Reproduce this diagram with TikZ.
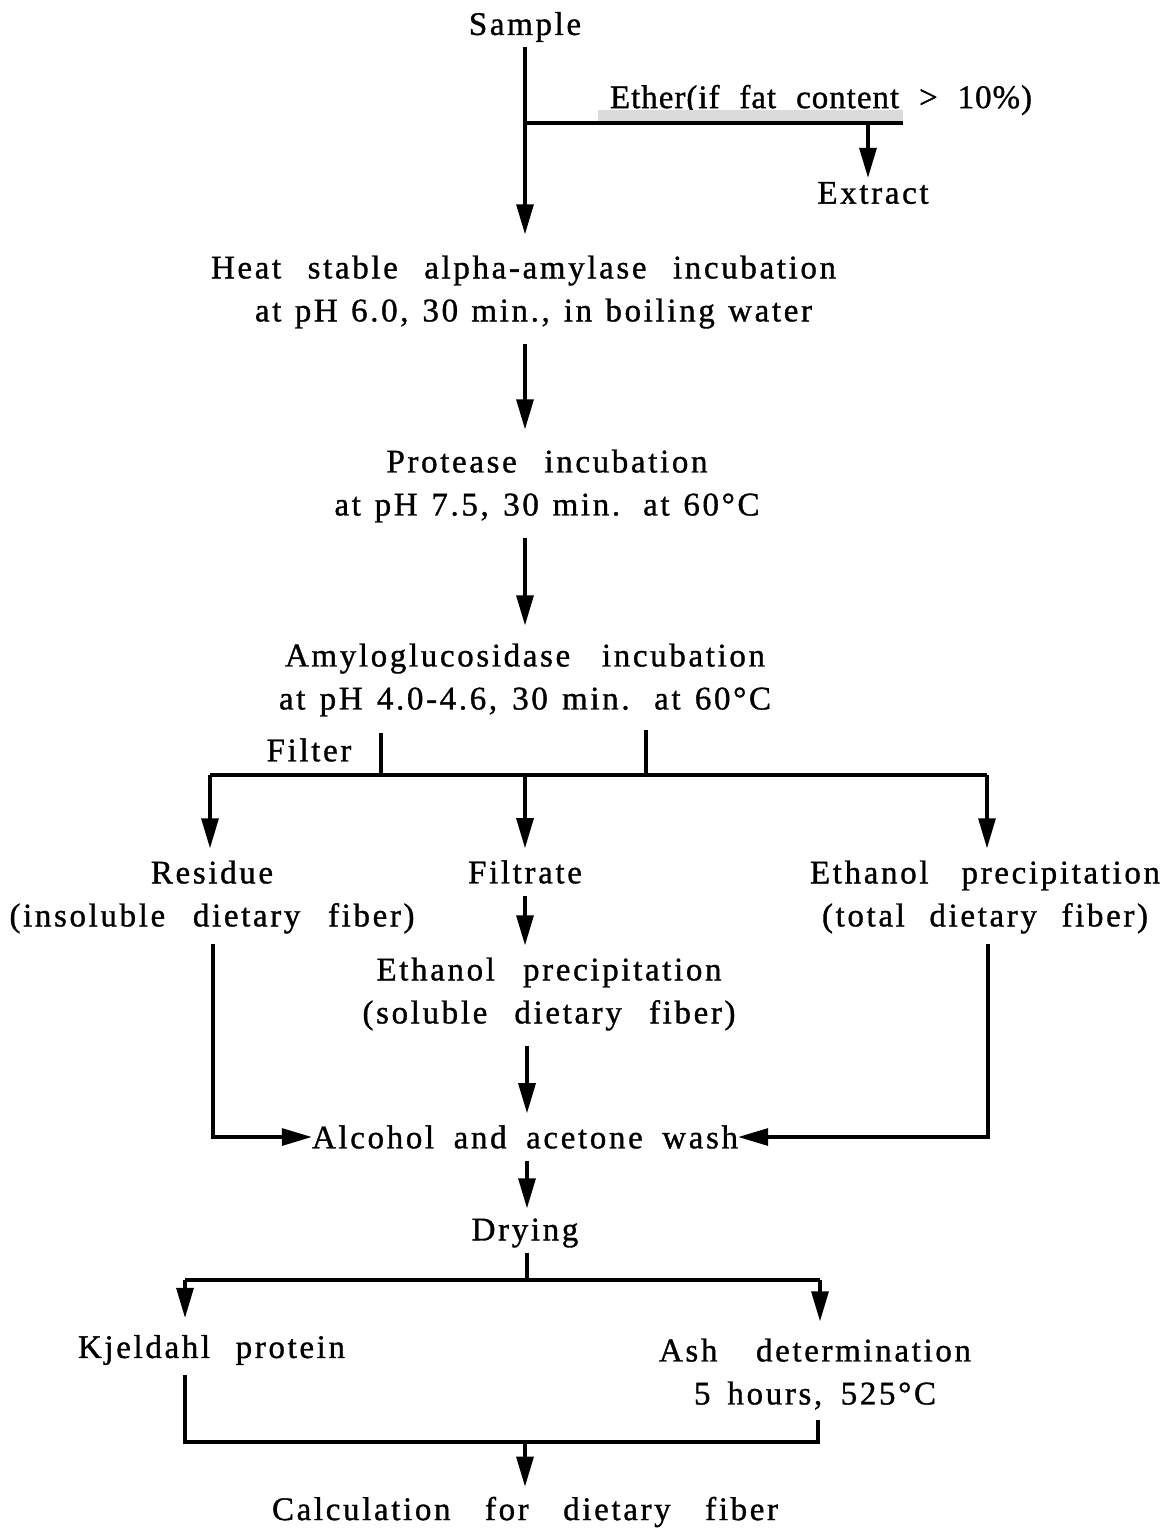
\documentclass[tikz,border=0pt]{standalone}
\usepackage{fontspec}
\setmainfont{Liberation Serif}[LetterSpace=8, WordSpace=1, FakeBold=1]
\usetikzlibrary{arrows.meta}
\newcommand{\fitline}[2]{\makebox[#1pt][s]{#2}}
\begin{document}
\begin{tikzpicture}[x=1pt,y=-1pt,
  txt/.style={font=\fontsize{33}{43}\selectfont, inner sep=0pt, align=center},
  link/.style={line width=3.2pt},
  arr/.style={line width=3.2pt, -{Triangle[length=30pt,width=17pt]}}]
\useasboundingbox (0,0) rectangle (1173,1531);

% nodes
\node[txt] (sample) at (525,27) {Sample};
\node[txt] (ether) at (821,100) {\addfontfeatures{LetterSpace=3}\fitline{422}{Ether(if fat content > 10\%)}};
\node[txt] (extract) at (873,193) {Extract};
\node[txt] (heat) at (523.5,292) {\fitline{625}{Heat stable alpha-amylase incubation}\\\hspace*{20pt}\fitline{557}{at pH 6.0, 30 min., in boiling water}};
\node[txt] (prot) at (547,486) {\fitline{321}{Protease incubation}\\\fitline{425}{at pH 7.5, 30 min. at 60°C}};
\node[txt] (amylo) at (525,680) {\fitline{480}{Amyloglucosidase incubation}\\\fitline{492}{at pH 4.0-4.6, 30 min. at 60°C}};
\node[txt] (filter) at (309,750) {Filter};
\node[txt] (residue) at (212,897) {Residue\\\fitline{405}{(insoluble dietary fiber)}};
\node[txt] (filtrate) at (525,872) {Filtrate};
\node[txt] (ethsol) at (549,994) {\fitline{345}{Ethanol precipitation}\\\fitline{373}{(soluble dietary fiber)}};
\node[txt] (ethtot) at (985,897) {\fitline{350}{Ethanol precipitation}\\\fitline{326}{(total dietary fiber)}};
\node[txt] (wash) at (525,1137) {\fitline{426}{Alcohol and acetone wash}};
\node[txt] (drying) at (525,1233) {Drying};
\node[txt] (kjel) at (211.5,1350) {\fitline{267}{Kjeldahl protein}};
\node[txt] (ash) at (815,1374) {\fitline{312}{Ash determination}\\\fitline{242}{5 hours, 525°C}};
\node[txt] (calc) at (525,1512) {\fitline{506}{Calculation for dietary fiber}};

% coordinates for junctions
\coordinate (spine) at (525,0);
\coordinate (bj) at (525,123);
\coordinate (ethend) at (903,123);
\coordinate (ext) at (868,123);
\coordinate (f1top) at (381,733);
\coordinate (f2top) at (646,730);
\coordinate (hb) at (0,775);
\coordinate (dj) at (527,1280);
\coordinate (dl) at (185,1280);
\coordinate (dr) at (820,1280);
\coordinate (klt) at (185,1375);
\coordinate (bl) at (185,1442);
\coordinate (br) at (818,1442);
\coordinate (art) at (818,1420);

% ether branch
\fill[black!14] (598,110) rectangle (903,122);
\draw[arr, shorten <=5pt, shorten >=21pt] (sample.south -| spine) -- (heat.north -| spine);
\draw[link] (bj) -- (ethend);
\draw[arr, shorten >=4pt] (ext) -- (ext |- extract.north);

% main chain
\draw[arr, shorten <=15pt, shorten >=20pt] (heat.south -| spine) -- (prot.north -| spine);
\draw[arr, shorten <=15pt, shorten >=18pt] (prot.south -| spine) -- (amylo.north -| spine);

% filter split
\draw[link] (f1top) -- (f1top |- hb);
\draw[link] (f2top) -- (f2top |- hb);
\draw[link] (210,775) -- (646,775);
\draw[line width=3.8pt] (646,775) -- (987,775);
\draw[arr, shorten >=12pt] (210,775) -- (210,775 |- residue.north);
\draw[arr, shorten >=12pt] (filtrate.north |- hb) -- (filtrate.north);
\draw[arr, shorten >=12pt] (987,775) -- (987,775 |- ethtot.north);

% filtrate to ethanol (soluble)
\draw[arr, shorten <=12pt, shorten >=12pt] (filtrate.south) -- (filtrate.south |- ethsol.north);
\draw[arr, shorten <=15pt, shorten >=12pt] (ethsol.south -| 527,0) -- (wash.north -| 527,0);

% side branches into wash
\draw[arr, shorten <=10pt] (residue.south) ++(1,0) |- (wash.west);
\draw[arr, shorten <=10pt] (ethtot.south) ++(3,0) |- (wash.east);

% wash to drying
\draw[arr, shorten <=12pt, shorten >=10pt] (wash.south -| 527,0) -- (drying.north -| 527,0);

% drying split
\draw[link, shorten <=5pt] (drying.south -| dj) -- (dj);
\draw[link] (dl) -- (dr);
\draw[arr, shorten >=17pt] (dl) -- (dl |- kjel.north);
\draw[arr, shorten >=17pt] (dr) -- (dr |- ash.north);

% bottom bracket
\draw[link] (klt) -- (bl) -- (br) -- (art);
\draw[arr, shorten >=10pt] (calc.north |- bl) -- (calc.north);
\end{tikzpicture}
\end{document}
